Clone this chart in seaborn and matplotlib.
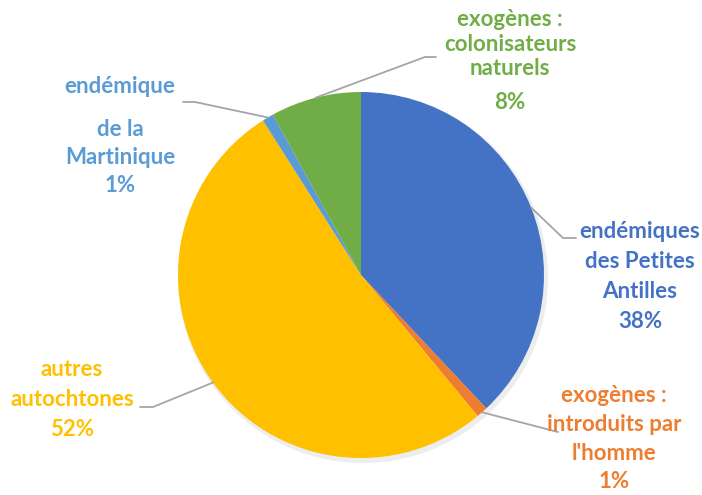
import matplotlib
matplotlib.use("Agg")
import matplotlib.pyplot as plt
import seaborn as sns
import numpy as np

# ── données ──────────────────────────────────────────────────────────────────
categories = ["endémiques\ndes Petites\nAntilles",
              "exogènes :\nintroduits par\nl'homme",
              "autres\nautochtones",
              "endémique\nde la\nMartinique",
              "exogènes :\ncolonisateurs\nnaturels"]
valeurs = [38, 1, 52, 1, 8]
couleurs = ["#4472C4", "#ED7D31", "#FFC000", "#5B9BD5", "#70AD47"]

sns.set_theme(style="white")
plt.rcParams["font.family"] = ["Lato", "DejaVu Sans"]

W, H = 702, 495
fig = plt.figure(figsize=(W / 100, H / 100), dpi=100)
ax = fig.add_axes([0, 0, 1, 1])

centre = (361, H - 275)
rayon = 183

# ombre légère
ombre = plt.Circle((centre[0] + 2, centre[1] - 3), rayon + 2, color="#000000", alpha=0.07, lw=0)
ax.add_patch(ombre)

wedges, _ = ax.pie(valeurs, colors=couleurs, startangle=90, counterclock=False,
                   center=centre, radius=rayon, frame=True,
                   wedgeprops=dict(linewidth=0))
ax.set_xlim(0, W)
ax.set_ylim(0, H)
ax.set_aspect("equal")
ax.axis("off")

# mise en page des étiquettes : centre x, blocs (haut y en pixels), coude et fin de ligne
etiquettes = [
    dict(x=640, blocs=[221], coude=(563, 238), fin=(576, 238)),
    dict(x=614, blocs=[385], ls=1.46, coude=(558, 432), fin=(558, 432)),
    dict(x=72, blocs=[359], coude=(153, 407), fin=(140, 407)),
    dict(x=120, blocs=[76, 119], coude=(195, 102), fin=(183, 102)),
    dict(x=510, blocs=[9, 92], coude=(425, 57), fin=(436, 57)),
]

for w, lab, val, coul, pos in zip(wedges, categories, valeurs, couleurs, etiquettes):
    ang = np.deg2rad((w.theta1 + w.theta2) / 2)
    px = centre[0] + rayon * np.cos(ang)
    py = centre[1] + rayon * np.sin(ang)
    cx, cy = pos["coude"]
    fx, fy = pos["fin"]
    ax.plot([px, cx, fx], [py, H - cy, H - fy], color="#A5A5A5", lw=1.3, zorder=1)

    lignes = lab.split("\n") + [f"{val}%"]
    if len(pos["blocs"]) == 1:
        morceaux = ["\n".join(lignes)]
        ls = pos.get("ls", 1.52)
    elif lab.startswith("endémique\nde la"):
        morceaux = [lignes[0], "\n".join(lignes[1:])]
        ls = 1.4
    else:
        morceaux = ["\n".join(lignes[:-1]), lignes[-1]]
        ls = 1.22
    for bloc, haut in zip(morceaux, pos["blocs"]):
        ax.text(pos["x"], H - haut, bloc, color=coul, fontsize=16, fontweight="bold",
                ha="center", va="top", linespacing=ls, zorder=3)

fig.savefig("out.png", dpi=100)
